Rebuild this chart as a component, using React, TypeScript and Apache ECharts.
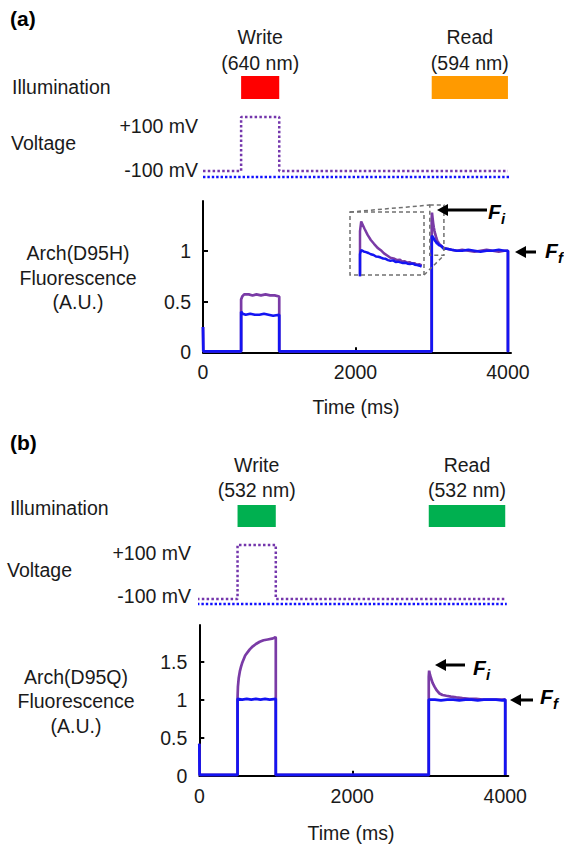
import React, { useEffect, useRef } from 'react';
import * as echarts from 'echarts';

const FONT = '"Liberation Sans", Arial, Helvetica, sans-serif';
const TEXT = '#1a1a1a';
const PURPLE = '#7A3BA6';
const BLUE = '#1414F2';
const DOT_PURPLE = '#7436AC';
const DOT_BLUE = '#1010FF';

// ---------------- data ----------------
const TIME_LABELS = [0, 2000, 4000];
const A_FLUO_LABELS = [0, 0.5, 1];
const B_FLUO_LABELS = [0, 0.5, 1, 1.5];
const VOLT_LABELS = ['+100 mV', '-100 mV'];

const A_PULSES = [[500, 1000], [3000, 4000]];
const A_PULSE_TITLES = [['Write', '(640 nm)'], ['Read', '(594 nm)']];
const A_PULSE_COLORS = ['#FF0000', '#FF9A00'];

const B_PULSES = [[500, 1000], [3000, 4000]];
const B_PULSE_TITLES = [['Write', '(532 nm)'], ['Read', '(532 nm)']];
const B_PULSE_COLORS = ['#00B050', '#00B050'];

const A_VOLT_PURPLE = [[0, -100], [500, -100], [500, 100], [1000, 100], [1000, -100], [4000, -100]];
const A_VOLT_BLUE = [[0, -100], [4025, -100]];
const B_VOLT_PURPLE = [[-30, -100], [500, -100], [500, 100], [1000, 100], [1000, -100], [3990, -100]];
const B_VOLT_BLUE = [[-30, -100], [4020, -100]];

const A_FLUO_PURPLE = [
  [0, 0.25], [4, 0.01], [250, 0.01], [500, 0.01], [500, 0.52], [515, 0.55], [540, 0.57], [600, 0.57],
  [650, 0.56], [700, 0.57], [760, 0.56], [820, 0.57], [880, 0.56], [940, 0.56], [1000, 0.55], [1000, 0.01],
  [1500, 0.01], [2000, 0.01], [2500, 0.01], [3000, 0.01], [3000, 1.3], [3003, 1.376], [3011, 1.32],
  [3019, 1.27], [3027, 1.23], [3035, 1.2], [3044, 1.168], [3052, 1.15], [3060, 1.125], [3068, 1.108],
  [3076, 1.09], [3084, 1.085], [3093, 1.072], [3100, 1.075], [3105, 1.062], [3111, 1.064], [3117, 1.054],
  [3124, 1.056], [3130, 1.045], [3136, 1.048], [3142, 1.036], [3148, 1.04], [3154, 1.03], [3200, 1.02],
  [3260, 1.01], [3330, 1.0], [3400, 1.01], [3480, 1.0], [3560, 0.99], [3640, 1.0], [3720, 1.01],
  [3800, 1.0], [3880, 0.99], [3950, 1.0], [4000, 1.0], [4000, 0.01],
];
const A_FLUO_BLUE = [
  [0, 0.25], [4, 0.01], [250, 0.01], [500, 0.01], [500, 0.4], [520, 0.38], [560, 0.37], [620, 0.38],
  [680, 0.37], [740, 0.37], [800, 0.38], [860, 0.37], [920, 0.36], [1000, 0.37], [1000, 0.01],
  [1500, 0.01], [2000, 0.01], [2500, 0.01], [3000, 0.01], [3000, 1.12], [3003, 1.15], [3009, 1.14],
  [3015, 1.135], [3021, 1.128], [3027, 1.118], [3034, 1.112], [3040, 1.1], [3046, 1.098], [3052, 1.092],
  [3058, 1.085], [3064, 1.082], [3070, 1.072], [3076, 1.067], [3083, 1.07], [3089, 1.058], [3095, 1.06],
  [3101, 1.054], [3107, 1.05], [3113, 1.052], [3119, 1.044], [3125, 1.042], [3131, 1.046], [3137, 1.036],
  [3143, 1.034], [3149, 1.028], [3154, 1.021], [3200, 1.02], [3260, 1.01], [3330, 1.0], [3400, 1.0],
  [3480, 1.01], [3560, 1.0], [3640, 0.99], [3720, 1.0], [3800, 1.0], [3880, 1.01], [3950, 1.0],
  [4000, 1.0], [4000, 0.0],
];
const B_FLUO_PURPLE = [
  [0, 0.42], [4, 0.01], [250, 0.01], [500, 0.01], [500, 1.02], [505, 1.17], [515, 1.28], [530, 1.37],
  [545, 1.43], [560, 1.48], [580, 1.53], [600, 1.58], [630, 1.62], [660, 1.66], [700, 1.7], [740, 1.73],
  [790, 1.76], [840, 1.78], [895, 1.79], [950, 1.8], [975, 1.81], [995, 1.82], [1000, 1.81], [1000, 0.01],
  [1500, 0.01], [2000, 0.01], [2500, 0.01], [3000, 0.01], [3000, 1.3], [3005, 1.38], [3015, 1.33],
  [3030, 1.28], [3050, 1.22], [3075, 1.17], [3105, 1.12], [3140, 1.08], [3180, 1.06], [3230, 1.05],
  [3290, 1.04], [3360, 1.03], [3440, 1.02], [3530, 1.01], [3620, 1.01], [3700, 1.0], [3850, 1.0],
  [4000, 1.0], [4000, 0.01],
];
const B_FLUO_BLUE = [
  [0, 0.42], [4, 0.01], [250, 0.01], [500, 0.01], [500, 1.01], [560, 1.0], [620, 1.01], [680, 1.0],
  [740, 1.01], [800, 1.0], [860, 1.01], [920, 1.0], [1000, 1.01], [1000, 0.01], [1500, 0.01],
  [2000, 0.01], [2500, 0.01], [3000, 0.01], [3000, 1.0], [3080, 1.0], [3160, 0.99], [3240, 1.0],
  [3320, 1.0], [3400, 0.99], [3480, 1.0], [3560, 1.0], [3640, 0.99], [3720, 1.0], [3800, 1.0],
  [3880, 1.0], [3960, 0.99], [4000, 1.0], [4000, 0.01],
];

// zoomed inset of panel (a)
const A_INSET_X = [2975, 3160];
const A_INSET_Y = [0.955, 1.45];
const A_INSET_END = 3154;

// ---------------- layout ----------------
const PANELS = [
  {
    left: 203, width: 308, xMax: 4040,
    illumTop: 76, illumH: 23,
    voltTop: 112, voltH: 70, purpleRange: [-140.7, 118.5], blueRange: [-118.5, 140.7],
    fluoTop: 201, fluoH: 151.3, fluoMax: 1.49, fluoLabels: A_FLUO_LABELS,
    pulses: A_PULSES, pulseColors: A_PULSE_COLORS, pulseTitles: A_PULSE_TITLES,
    voltPurple: A_VOLT_PURPLE, voltBlue: A_VOLT_BLUE,
    fluoPurple: A_FLUO_PURPLE, fluoBlue: A_FLUO_BLUE,
  },
  {
    left: 199.3, width: 309, xMax: 4040,
    illumTop: 505, illumH: 22,
    voltTop: 540, voltH: 69, purpleRange: [-137, 118.5], blueRange: [-118.5, 137],
    fluoTop: 625, fluoH: 150.7, fluoMax: 1.98, fluoLabels: B_FLUO_LABELS,
    pulses: B_PULSES, pulseColors: B_PULSE_COLORS, pulseTitles: B_PULSE_TITLES,
    voltPurple: B_VOLT_PURPLE, voltBlue: B_VOLT_BLUE,
    fluoPurple: B_FLUO_PURPLE, fluoBlue: B_FLUO_BLUE,
  },
];
const INSET = { left: 350, top: 212, width: 74, height: 63 };

function buildOption() {
  const grid: any[] = [];
  const xAxis: any[] = [];
  const yAxis: any[] = [];
  const series: any[] = [];
  const idx: any[] = [];

  const hiddenAxis = (gi: number, min: number, max: number) => ({
    type: 'value', gridIndex: gi, min, max, show: false,
  });
  const plain = (v: number) => String(v);

  PANELS.forEach((p) => {
    const r: any = {};
    // illumination
    grid.push({ left: p.left, top: p.illumTop, width: p.width, height: p.illumH });
    let gi = grid.length - 1;
    xAxis.push(hiddenAxis(gi, 0, p.xMax));
    yAxis.push(hiddenAxis(gi, 0, 1));
    r.illum = { xAxisIndex: xAxis.length - 1, yAxisIndex: yAxis.length - 1 };
    const colors = p.pulseColors;
    series.push({
      type: 'custom',
      xAxisIndex: r.illum.xAxisIndex,
      yAxisIndex: r.illum.yAxisIndex,
      dimensions: ['start', 'end', 'k'],
      encode: { x: ['start', 'end'] },
      data: p.pulses.map((q, i) => [q[0], q[1], i]),
      renderItem: (params: any, api: any) => {
        const a = api.coord([api.value(0), 1]);
        const b = api.coord([api.value(1), 0]);
        return {
          type: 'rect',
          shape: { x: a[0], y: a[1], width: b[0] - a[0], height: b[1] - a[1] },
          style: { fill: colors[api.value(2)] },
        };
      },
    });

    // voltage
    grid.push({ left: p.left, top: p.voltTop, width: p.width, height: p.voltH });
    gi = grid.length - 1;
    xAxis.push(hiddenAxis(gi, 0, p.xMax));
    const vx = xAxis.length - 1;
    yAxis.push(hiddenAxis(gi, p.purpleRange[0], p.purpleRange[1]));
    const vyP = yAxis.length - 1;
    yAxis.push(hiddenAxis(gi, p.blueRange[0], p.blueRange[1]));
    const vyB = yAxis.length - 1;
    r.volt = { xAxisIndex: vx, yAxisIndex: vyP };
    series.push({
      type: 'line', xAxisIndex: vx, yAxisIndex: vyP, data: p.voltPurple,
      symbol: 'none', clip: false,
      lineStyle: { color: DOT_PURPLE, width: 2.5, type: [2.5, 2.3] },
    });
    series.push({
      type: 'line', xAxisIndex: vx, yAxisIndex: vyB, data: p.voltBlue,
      symbol: 'none', clip: false,
      lineStyle: { color: DOT_BLUE, width: 2.4, type: [2.4, 2] },
    });

    // fluorescence
    grid.push({ left: p.left, top: p.fluoTop, width: p.width, height: p.fluoH });
    gi = grid.length - 1;
    xAxis.push({
      type: 'value', gridIndex: gi, min: 0, max: p.xMax,
      axisLine: { show: true, onZero: false, lineStyle: { color: '#000', width: 2 } },
      axisTick: { show: true, inside: true, length: 5, customValues: TIME_LABELS, lineStyle: { color: '#000', width: 2 } },
      axisLabel: { customValues: TIME_LABELS, formatter: plain, fontSize: 19.5, color: TEXT, fontFamily: FONT, margin: 10 },
      splitLine: { show: false },
    });
    const fx = xAxis.length - 1;
    yAxis.push({
      type: 'value', gridIndex: gi, min: 0, max: p.fluoMax,
      axisLine: { show: true, onZero: false, lineStyle: { color: '#000', width: 2 } },
      axisTick: { show: true, inside: true, length: 5, customValues: p.fluoLabels, lineStyle: { color: '#000', width: 2 } },
      axisLabel: { customValues: p.fluoLabels, formatter: plain, fontSize: 19.5, color: TEXT, fontFamily: FONT, margin: 12 },
      splitLine: { show: false },
    });
    const fy = yAxis.length - 1;
    r.fluo = { xAxisIndex: fx, yAxisIndex: fy };
    series.push({
      type: 'line', xAxisIndex: fx, yAxisIndex: fy, data: p.fluoPurple, symbol: 'none',
      lineStyle: { color: PURPLE, width: 2.7 },
    });
    series.push({
      type: 'line', xAxisIndex: fx, yAxisIndex: fy, data: p.fluoBlue, symbol: 'none',
      lineStyle: { color: BLUE, width: 2.7 },
    });
    idx.push(r);
  });

  // inset for panel (a)
  grid.push({ ...INSET });
  const gi = grid.length - 1;
  xAxis.push(hiddenAxis(gi, A_INSET_X[0], A_INSET_X[1]));
  yAxis.push(hiddenAxis(gi, A_INSET_Y[0], A_INSET_Y[1]));
  const ix = xAxis.length - 1;
  const iy = yAxis.length - 1;
  series.push({
    type: 'line', xAxisIndex: ix, yAxisIndex: iy, symbol: 'none', clip: true,
    data: A_FLUO_PURPLE.filter((d) => d[0] <= A_INSET_END),
    lineStyle: { color: PURPLE, width: 2.5 },
  });
  series.push({
    type: 'line', xAxisIndex: ix, yAxisIndex: iy, symbol: 'none', clip: true,
    data: A_FLUO_BLUE.filter((d) => d[0] <= A_INSET_END),
    lineStyle: { color: BLUE, width: 2.5 },
  });

  return {
    option: {
      animation: false,
      backgroundColor: '#fff',
      textStyle: { fontFamily: FONT },
      grid, xAxis, yAxis, series,
    },
    idx,
  };
}

function buildGraphic(chart: any, idx: any[]) {
  const g: any[] = [];
  const text = (x: number, y: number, s: string, extra: any = {}) =>
    g.push({
      type: 'text', x, y, z: 10,
      style: {
        text: s, fill: TEXT, fontSize: 19.5, fontFamily: FONT,
        textAlign: 'left', textVerticalAlign: 'middle', ...extra,
      },
    });
  const arrow = (tip: number, tail: number, y: number) => {
    g.push({ type: 'line', z: 10, shape: { x1: tip + 8, y1: y, x2: tail, y2: y }, style: { stroke: '#000', lineWidth: 3 } });
    g.push({ type: 'polygon', z: 10, shape: { points: [[tip, y], [tip + 11, y - 6], [tip + 11, y + 6]] }, style: { fill: '#000' } });
  };
  const fLabel = (x: number, y: number, sub: string) => {
    text(x, y, 'F', { fontSize: 21, fontWeight: 'bold', fontStyle: 'italic', fill: '#000' });
    text(x + 13, y + 7, sub, { fontSize: 15, fontWeight: 'bold', fontStyle: 'italic', fill: '#000' });
  };

  const labelSets = [
    { tag: '(a)', tagY: 18, illumY: 87, illumX: 12, voltX: 11, voltY: 143, titleX: 78, titleY: [253, 278, 302],
      titles: ['Arch(D95H)', 'Fluorescence', '(A.U.)'], timeX: 356, timeY: 407, t1: -39, t2: -13,
      voltLabX: 198, voltLabDy: [9.5, -1] },
    { tag: '(b)', tagY: 442, illumY: 508, illumX: 10, voltX: 7, voltY: 570, titleX: 76, titleY: [677, 701, 726],
      titles: ['Arch(D95Q)', 'Fluorescence', '(A.U.)'], timeX: 351, timeY: 833, t1: -40, t2: -15,
      voltLabX: 191, voltLabDy: [8, -3] },
  ];

  PANELS.forEach((p, k) => {
    const L = labelSets[k];
    const r = idx[k];
    text(10, L.tagY, L.tag, { fontSize: 21, fontWeight: 'bold', fill: '#000' });
    text(L.illumX, L.illumY, 'Illumination');
    text(L.voltX, L.voltY, 'Voltage');
    L.titles.forEach((t, i) => text(L.titleX, L.titleY[i], t, { textAlign: 'center' }));
    text(L.timeX, L.timeY, 'Time (ms)', { textAlign: 'center' });
    p.pulses.forEach((q, i) => {
      const c = chart.convertToPixel(r.illum, [(q[0] + q[1]) / 2, 1]);
      text(c[0], c[1] + L.t1, p.pulseTitles[i][0], { textAlign: 'center' });
      text(c[0], c[1] + L.t2, p.pulseTitles[i][1], { textAlign: 'center' });
    });
    const vp = chart.convertToPixel(r.volt, [0, 100]);
    const vm = chart.convertToPixel(r.volt, [0, -100]);
    text(L.voltLabX, vp[1] + L.voltLabDy[0], VOLT_LABELS[0], { textAlign: 'right' });
    text(L.voltLabX, vm[1] + L.voltLabDy[1], VOLT_LABELS[1], { textAlign: 'right' });
  });

  // annotations panel (a)
  arrow(437, 487, 210);
  fLabel(488, 211, 'i');
  arrow(515, 536, 252);
  fLabel(545, 250, 'f');
  // annotations panel (b)
  arrow(435, 465, 665);
  fLabel(473, 667, 'i');
  arrow(510, 533, 700);
  fLabel(540, 696, 'f');

  // inset frame and zoom connectors
  const dash = { stroke: '#707070', lineWidth: 1.5, lineDash: [4, 3], fill: 'none' };
  const p1 = chart.convertToPixel(idx[0].fluo, [A_INSET_X[0], A_INSET_Y[1]]);
  const p2 = chart.convertToPixel(idx[0].fluo, [A_INSET_X[1], A_INSET_Y[0]]);
  g.push({ type: 'rect', z: 9, shape: { x: INSET.left, y: INSET.top, width: INSET.width, height: INSET.height }, style: dash });
  g.push({ type: 'rect', z: 9, shape: { x: p1[0], y: p1[1], width: p2[0] - p1[0], height: p2[1] - p1[1] }, style: dash });
  g.push({ type: 'line', z: 9, shape: { x1: INSET.left, y1: INSET.top, x2: p1[0], y2: p1[1] }, style: dash });
  g.push({ type: 'line', z: 9, shape: { x1: INSET.left + INSET.width, y1: INSET.top + INSET.height, x2: p2[0], y2: p2[1] }, style: dash });
  return g;
}

export default function App() {
  const ref = useRef<HTMLDivElement>(null);
  useEffect(() => {
    const el = ref.current;
    if (!el) return;
    const chart = echarts.init(el, null, { renderer: 'svg' });
    const { option, idx } = buildOption();
    chart.setOption(option);
    chart.setOption({ graphic: buildGraphic(chart, idx) });
    return () => chart.dispose();
  }, []);
  return (
    <div
      ref={ref}
      style={{ position: 'fixed', left: 0, top: 0, width: 564, height: 847, background: '#fff' }}
    />
  );
}
